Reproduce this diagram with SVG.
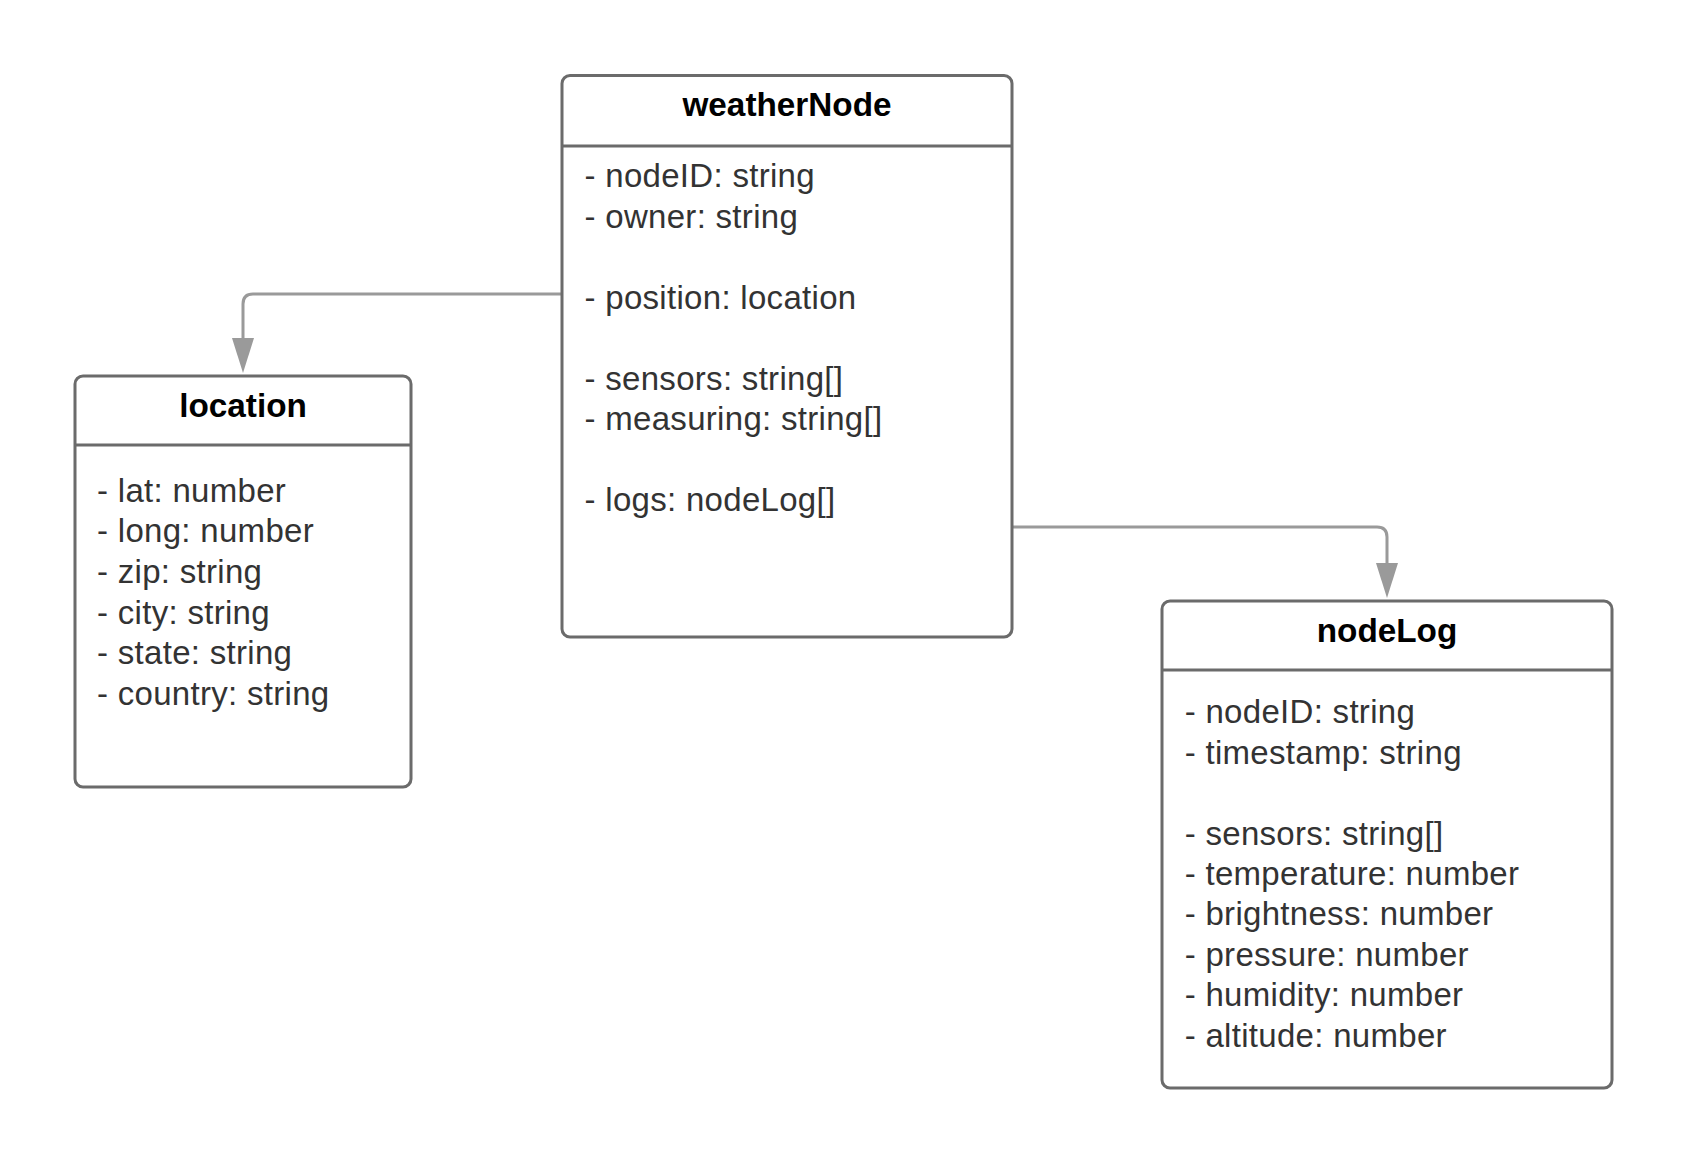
<svg xmlns="http://www.w3.org/2000/svg" width="1688" height="1163" viewBox="0 0 1688 1163">
<style>
.box{fill:#ffffff;stroke:#6b6b6b;stroke-width:3}
.div{stroke:#6b6b6b;stroke-width:3}
.title{font-family:"Liberation Sans",Arial,sans-serif;font-weight:bold;font-size:33.3px;fill:#000000;text-anchor:middle}
.body{font-family:"Liberation Sans",Arial,sans-serif;font-size:33px;fill:#333333;letter-spacing:0.3px}
.conn{fill:none;stroke:#9a9a9a;stroke-width:3}
</style>
<defs>
<marker id="arrow" markerUnits="userSpaceOnUse" markerWidth="35" markerHeight="22" viewBox="0 0 35 22" refX="0" refY="11" orient="auto">
<path d="M0,0 L35,11 L0,22 Z" fill="#9a9a9a"/>
</marker>
</defs>
<rect width="1688" height="1163" fill="#ffffff"/>
<g id="connectors">
<path class="conn" d="M562,294 H253 Q243,294 243,304 V338" marker-end="url(#arrow)"/>
<path class="conn" d="M1012,527 H1377 Q1387,527 1387,537 V563" marker-end="url(#arrow)"/>
</g>
<g id="weatherNode">
<rect class="box" x="562" y="75.5" width="450" height="561.5" rx="8"/>
<line class="div" x1="562" y1="146" x2="1012" y2="146"/>
<text class="title" x="787" y="115.5">weatherNode</text>
<text class="body">
<tspan x="584.5" y="187.3">- nodeID: string</tspan>
<tspan x="584.5" y="227.8">- owner: string</tspan>
<tspan x="584.5" y="308.8">- position: location</tspan>
<tspan x="584.5" y="389.8">- sensors: string[]</tspan>
<tspan x="584.5" y="430.3">- measuring: string[]</tspan>
<tspan x="584.5" y="511.3">- logs: nodeLog[]</tspan>
</text>
</g>
<g id="location">
<rect class="box" x="75" y="376" width="336" height="411" rx="8"/>
<line class="div" x1="75" y1="445" x2="411" y2="445"/>
<text class="title" x="243" y="416.5">location</text>
<text class="body">
<tspan x="97" y="501.7">- lat: number</tspan>
<tspan x="97" y="542.3">- long: number</tspan>
<tspan x="97" y="582.9">- zip: string</tspan>
<tspan x="97" y="623.5">- city: string</tspan>
<tspan x="97" y="664.1">- state: string</tspan>
<tspan x="97" y="704.7">- country: string</tspan>
</text>
</g>
<g id="nodeLog">
<rect class="box" x="1162" y="601" width="450" height="487" rx="8"/>
<line class="div" x1="1162" y1="670" x2="1612" y2="670"/>
<text class="title" x="1387" y="641.5">nodeLog</text>
<text class="body">
<tspan x="1184.7" y="723.3">- nodeID: string</tspan>
<tspan x="1184.7" y="763.7">- timestamp: string</tspan>
<tspan x="1184.7" y="844.5">- sensors: string[]</tspan>
<tspan x="1184.7" y="884.9">- temperature: number</tspan>
<tspan x="1184.7" y="925.3">- brightness: number</tspan>
<tspan x="1184.7" y="965.7">- pressure: number</tspan>
<tspan x="1184.7" y="1006.1">- humidity: number</tspan>
<tspan x="1184.7" y="1046.5">- altitude: number</tspan>
</text>
</g>
</svg>
